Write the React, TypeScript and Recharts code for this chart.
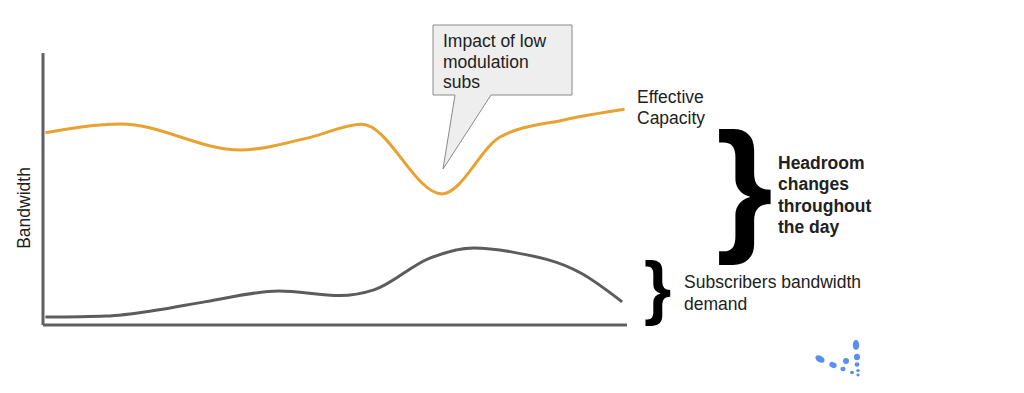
import React from "react";
import { LineChart, Line, XAxis, YAxis } from "recharts";

// hours of the day (x) and relative bandwidth (y, 0-100)
const capacityHours = [0.1, 3.2, 8.1, 10.9, 13.1, 16.4, 18.8, 21.4, 23.9];
const capacityValues = [70.7, 73.9, 64.3, 68.8, 73.8, 48.2, 69.2, 75.4, 79.3];

const demandHours = [0.1, 2.6, 4.7, 6.7, 9.7, 12.2, 13.6, 15.9, 17.7, 19.3, 22.1, 23.8];
const demandValues = [2.9, 3.3, 5.5, 8.6, 12.5, 10.8, 12.9, 24.6, 28.3, 26.8, 19.1, 8.5];

const capacityData = capacityHours.map((h, i) => ({ hour: h, value: capacityValues[i] }));
const demandData = demandHours.map((h, i) => ({ hour: h, value: demandValues[i] }));

const calloutLines = ["Impact of low", "modulation", "subs"];
const capacityLabel = ["Effective", "Capacity"];
const headroomLabel = ["Headroom", "changes", "throughout", "the day"];
const demandLabel = ["Subscribers bandwidth", "demand"];
const yAxisTitle = "Bandwidth";

const FONT = "'Liberation Sans', Arial, sans-serif";
const TEXT = "#212121";

export default function App() {
  return (
    <div style={{ position: "absolute", left: 0, top: 0, width: 1024, height: 393, background: "#fff" }}>
      <LineChart
        width={1024}
        height={393}
        margin={{ top: 53, right: 397, bottom: 66, left: 41 }}
      >
        <XAxis
          type="number"
          dataKey="hour"
          domain={[0, 24]}
          tick={false}
          tickLine={false}
          height={2}
          axisLine={{ stroke: "#606060", strokeWidth: 3 }}
          allowDuplicatedCategory={false}
        />
        <YAxis
          type="number"
          domain={[0, 100]}
          tick={false}
          tickLine={false}
          width={2}
          axisLine={{ stroke: "#606060", strokeWidth: 3 }}
        />
        <Line
          data={capacityData}
          dataKey="value"
          type="monotone"
          stroke="#e8a232"
          strokeWidth={3}
          dot={false}
          isAnimationActive={false}
        />
        <Line
          data={demandData}
          dataKey="value"
          type="monotone"
          stroke="#5c5c5c"
          strokeWidth={3}
          dot={false}
          isAnimationActive={false}
        />
      </LineChart>
      <svg
        width={1024}
        height={393}
        style={{ position: "absolute", left: 0, top: 0, pointerEvents: "none" }}
      >
        <text
          x={30}
          y={208}
          transform="rotate(-90 30 208)"
          textAnchor="middle"
          fontFamily={FONT}
          fontSize={17.5}
          fill={TEXT}
        >
          {yAxisTitle}
        </text>
        <path
          d="M433,25 H572 V95 H491 L443,169 L455,95 H433 Z"
          fill="#eeeeee"
          stroke="#8a8a8a"
          strokeWidth={1}
        />
        {calloutLines.map((t, i) => (
          <text key={t} x={443} y={47 + i * 20.5} fontFamily={FONT} fontSize={17.5} fill={TEXT}>
            {t}
          </text>
        ))}
        {capacityLabel.map((t, i) => (
          <text key={t} x={637} y={103 + i * 20.5} fontFamily={FONT} fontSize={17.5} fill={TEXT}>
            {t}
          </text>
        ))}
        {headroomLabel.map((t, i) => (
          <text key={t} x={778} y={169 + i * 21.3} fontFamily={FONT} fontSize={17.5} fontWeight="bold" fill={TEXT}>
            {t}
          </text>
        ))}
        {demandLabel.map((t, i) => (
          <text key={t} x={684} y={288 + i * 21.5} fontFamily={FONT} fontSize={17.5} fill={TEXT}>
            {t}
          </text>
        ))}
        <text x={716} y={235} fontFamily={FONT} fontSize={146} fontWeight="bold" fill="#000">
          {"}"}
        </text>
        <text x={644} y={311} fontFamily={FONT} fontSize={70} fontWeight="bold" fill="#000">
          {"}"}
        </text>
        <g fill="#5b8ef0">
          <ellipse cx={820} cy={359} rx={5} ry={3.2} transform="rotate(30 820 359)" />
          <ellipse cx={833} cy={365} rx={3.8} ry={2.8} transform="rotate(25 833 365)" />
          <ellipse cx={846} cy={361} rx={3} ry={3} />
          <ellipse cx={843} cy={369} rx={2.6} ry={2.2} />
          <ellipse cx={856} cy={345} rx={3.2} ry={5} />
          <ellipse cx={857} cy={357} rx={3} ry={3.2} />
          <ellipse cx={857} cy={364.5} rx={2.4} ry={2.2} />
          <ellipse cx={852} cy={372.5} rx={2} ry={1.8} />
          <ellipse cx={858} cy={370.5} rx={1.8} ry={1.6} />
          <ellipse cx={858} cy={375} rx={1.6} ry={1.4} />
        </g>
      </svg>
    </div>
  );
}
